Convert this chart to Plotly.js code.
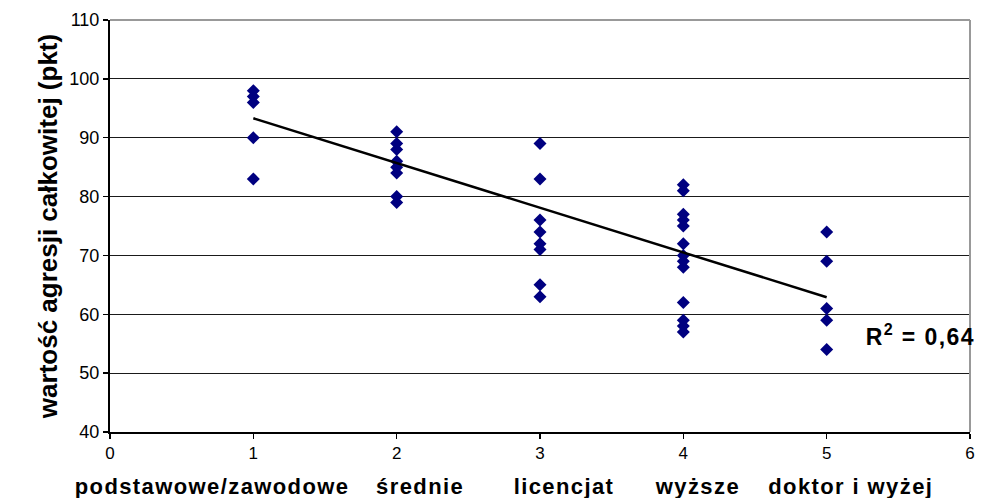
<!DOCTYPE html>
<html>
<head>
<meta charset="utf-8">
<script src="https://cdn.plot.ly/plotly-3.0.1.min.js"></script>
<style>
html,body{margin:0;padding:0;background:#fff;}
#chart{width:992px;height:498px;}
.annotation-text.widen{letter-spacing:1.4px;}
.annotation-text.widen2{letter-spacing:1.4px;}
</style>
</head>
<body>
<div id="chart"></div>
<script>
// ---- data ----
const levels = [1, 2, 3, 4, 5];
const categories = ["podstawowe/zawodowe", "średnie", "licencjat", "wyższe", "doktor i wyżej"];
const scores1 = [98, 97, 96, 90, 83];
const scores2 = [91, 89, 88, 86, 85, 84, 80, 79];
const scores3 = [89, 83, 76, 74, 72, 71, 65, 63];
const scores4 = [82, 81, 77, 76, 75, 72, 70, 69, 68, 62, 59, 58, 57];
const scores5 = [74, 69, 61, 59, 54];
const trendX = [1, 5];
const trendY = [93.3, 62.9];
const rSquaredText = "R<sup>2</sup> = 0,64";
const yTicks = [40, 50, 60, 70, 80, 90, 100, 110];
const xTicks = [0, 1, 2, 3, 4, 5, 6];

// ---- build scatter arrays ----
const groups = [scores1, scores2, scores3, scores4, scores5];
const px = [], py = [];
groups.forEach((g, i) => g.forEach(v => { px.push(levels[i]); py.push(v); }));

const font = "Liberation Sans, Arial, sans-serif";
const catPos = [0.119, 0.3605, 0.529, 0.683, 0.8616]; // paper x centres (layout)

const traces = [
  {x: px, y: py, type: "scatter", mode: "markers",
   marker: {symbol: "diamond", size: 10, color: "#000080"}, hoverinfo: "x+y", showlegend: false},
  {x: trendX, y: trendY, type: "scatter", mode: "lines",
   line: {color: "#000", width: 2.5}, hoverinfo: "skip", showlegend: false}
];

const annotations = categories.map((c, i) => ({
  text: c, xref: "paper", yref: "paper", x: catPos[i], y: -0.133,
  xanchor: "center", yanchor: "middle", showarrow: false,
  font: {family: font, size: 22, color: "#000", weight: "bold"}
}));
annotations.push({
  text: rSquaredText, xref: "x", yref: "y", x: 5.3, y: 56.5,
  xanchor: "left", yanchor: "middle", showarrow: false,
  font: {family: font, size: 23, color: "#000", weight: "bold"}
});

const layout = {
  width: 992, height: 498,
  margin: {l: 110, r: 22, t: 20, b: 66},
  paper_bgcolor: "#fff", plot_bgcolor: "#fff",
  showlegend: false,
  xaxis: {
    range: [0, 6], tickvals: xTicks, ticktext: xTicks.map(String),
    showgrid: false, zeroline: false,
    showline: true, linecolor: "#000", linewidth: 2,
    ticks: "outside", ticklen: 5, tickcolor: "#000", tickwidth: 1.5,
    tickfont: {family: font, size: 17, color: "#000"}
  },
  yaxis: {
    range: [40, 110], tickvals: yTicks, ticktext: yTicks.map(String),
    showgrid: true, gridcolor: "#1a1a1a", gridwidth: 1, zeroline: false,
    showline: true, linecolor: "#000", linewidth: 2,
    ticks: "outside", ticklen: 5, tickcolor: "#000", tickwidth: 1.5,
    tickfont: {family: font, size: 18, color: "#000"},
    title: {text: "wartość agresji całkowitej (pkt)", standoff: 4,
            font: {family: font, size: 26, color: "#000", weight: "bold"}}
  },
  shapes: [
    {type: "line", xref: "paper", yref: "paper", x0: 0, x1: 1, y0: 1, y1: 1, line: {color: "#999", width: 2}},
    {type: "line", xref: "paper", yref: "paper", x0: 1, x1: 1, y0: 0, y1: 1, line: {color: "#999", width: 2}}
  ],
  annotations: annotations
};

Plotly.newPlot("chart", traces, layout, {displayModeBar: false, staticPlot: true}).then(() => {
  const t = document.querySelectorAll(".annotation-text");
  t.forEach((el, i) => el.classList.add(i < categories.length ? "widen" : "widen2"));
});
</script>
</body>
</html>
